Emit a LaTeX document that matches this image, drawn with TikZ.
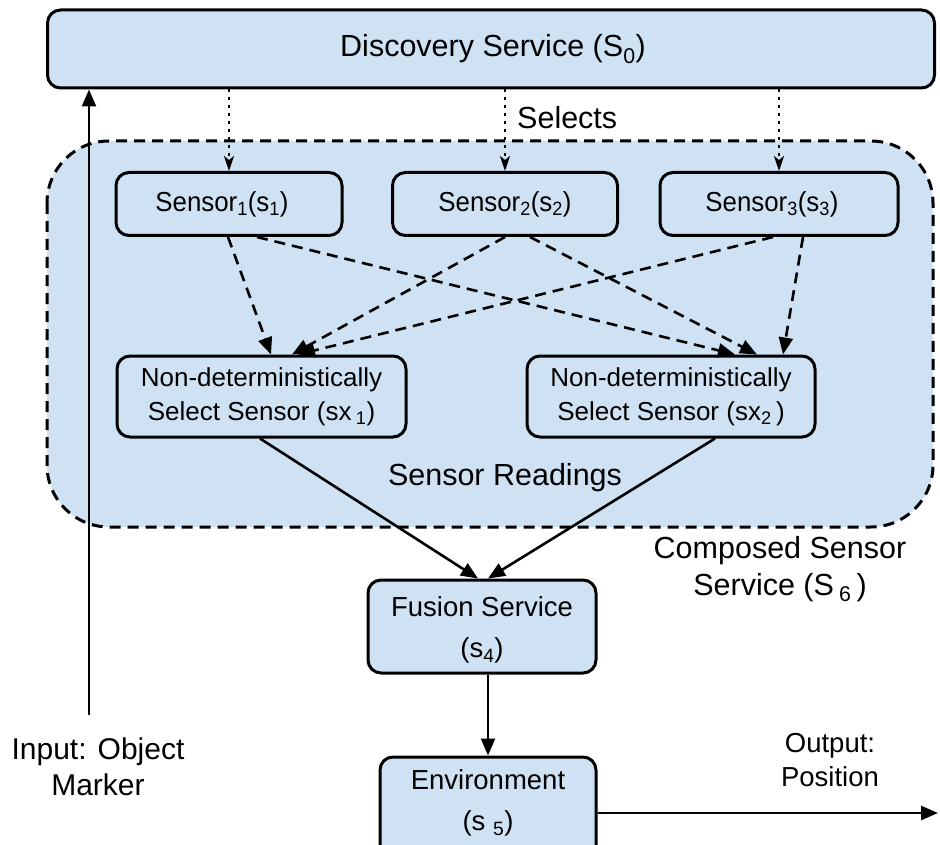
\documentclass[tikz,border=0pt]{standalone}
\usepackage{fontspec}
\setmainfont{Liberation Sans}
\newfontfamily\narrowsans{Liberation Sans}[FakeStretch=0.94]
\usetikzlibrary{arrows.meta}
\definecolor{boxfill}{HTML}{CFE2F3}
\tikzset{
  svc/.style={draw, line width=3pt, fill=boxfill, rounded corners=13pt,
    align=center, inner sep=0pt, font=\fontsize{26}{34}\selectfont},
  sensorbox/.style={svc, minimum height=63pt,
    font=\narrowsans\fontsize{27.5}{33}\selectfont},
  lbl/.style={align=center, inner sep=0pt, font=\fontsize{30.5}{37}\selectfont},
  midfont/.style={font=\fontsize{27.5}{41}\selectfont},
  solidarrow/.style={line width=2.6pt, -{Triangle[length=17pt,width=14pt]}},
  dasharrow/.style={line width=2.6pt, dash pattern=on 11pt off 7pt,
    -{Triangle[length=17pt,width=14pt]}},
  dotarrow/.style={line width=2.4pt, dash pattern=on 2.5pt off 5.5pt,
    -{Stealth[length=15pt,width=10pt,inset=4pt]}}
}
\begin{document}
\begin{tikzpicture}[x=1pt,y=-1pt]
\useasboundingbox (0,0) rectangle (940,845);
\clip (0,0) rectangle (940,845);

% composed sensor service container
\draw[line width=3pt, dash pattern=on 11pt off 7pt, fill=boxfill, rounded corners=62pt]
  (47,141) rectangle (933,527);

% services
\node[svc, minimum width=887pt, minimum height=78pt,
  font=\fontsize{30.5}{37}\selectfont] (disc) at (491,49)
  {\hspace*{4pt}Discovery Service (S\textsubscript{0})};
\node[sensorbox, minimum width=226pt] (s1) at (229,204)
  {Sensor\textsubscript{1}(s\textsubscript{1})\hspace*{14pt}};
\node[sensorbox, minimum width=225pt] (s2) at (505,204)
  {Sensor\textsubscript{2}(s\textsubscript{2})};
\node[sensorbox, minimum width=238pt] (s3) at (779,204)
  {Sensor\textsubscript{3}(s\textsubscript{3})\hspace*{14pt}};
\node[svc, minimum width=289pt, minimum height=81pt] (nd1) at (261.5,396.5)
  {Non-deterministically\\Select Sensor (sx\,\textsubscript{1})};
\node[svc, minimum width=288pt, minimum height=81pt] (nd2) at (671,396.5)
  {Non-deterministically\\Select Sensor (sx\textsubscript{2}\,)};
\node[svc, minimum width=228pt, minimum height=93pt] (fus) at (482,626.5) {};
\node[lbl, midfont] (fustext) at (482,630) {Fusion Service\\(s\textsubscript{4})};
\node[svc, minimum width=216pt, minimum height=110pt] (env) at (488,812) {};
\node[lbl, midfont] (envtext) at (488,803) {Environment\\(s \textsubscript{5})};

% labels
\node[lbl, anchor=west] (sel) at (517,118) {Selects};
\node[lbl] (readings) at (505,478) {Sensor Readings};
\node[lbl] (composed) at (780,569) {Composed Sensor\\Service (S\,\textsubscript{6}\,)};
\node[lbl, font=\fontsize{30}{36}\selectfont] (input) at (98,767) {Input: Object\\Marker};
\node[lbl, font=\fontsize{27.5}{34}\selectfont] (output) at (830,760) {Output:\\Position};

% endpoints
\coordinate (inbase) at (89,715);
\coordinate (outend) at (938,813);

% discovery selects sensors
\draw[dotarrow] (disc.south -| s1) -- (s1.north);
\draw[dotarrow] (disc.south -| s2) -- (s2.north);
\draw[dotarrow] (disc.south -| s3) -- (s3.north);

% sensors feed selectors
\draw[dasharrow] (s1.south -| 228,0) -- (nd1.north -| 271,0);
\draw[dasharrow] (s1.south -| 257,0) -- (nd2.north -| 735,0);
\draw[dasharrow] (s2.south -| 505,0) -- (nd1.north -| 292,0);
\draw[dasharrow] (s2.south -| 530,0) -- (nd2.north -| 757,0);
\draw[dasharrow] (s3.south -| 773,0) -- (nd1.north -| 298,0);
\draw[dasharrow] (s3.south -| 803,0) -- (nd2.north -| 783,0);

% readings to fusion
\draw[solidarrow] (nd1.south -| 260,0) -- (fus.north -| 478,0);
\draw[solidarrow] (nd2.south -| 715,0) -- (fus.north -| 488,0);
\draw[solidarrow] (fus.south -| env) -- (env.north);

% input and output
\draw[solidarrow] (inbase) -- (inbase |- disc.south);
\draw[solidarrow] (env.east |- outend) -- (outend);
\end{tikzpicture}
\end{document}
